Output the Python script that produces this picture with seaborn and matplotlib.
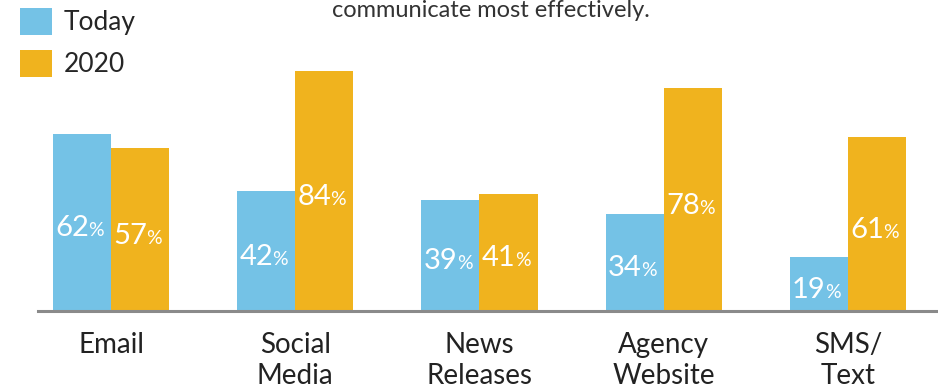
import matplotlib
matplotlib.use("Agg")
import matplotlib.pyplot as plt
import numpy as np
import pandas as pd
import seaborn as sns
from matplotlib.patches import Patch

categories = ["Email", "Social\nMedia", "News\nReleases", "Agency\nWebsite", "SMS/\nText"]
series = ["Today", "2020"]
today = [62, 42, 39, 34, 19]
future_2020 = [57, 84, 41, 78, 61]
subtitle = "communicate most effectively."

colors = {"Today": "#74C2E6", "2020": "#F0B31E"}

df = pd.DataFrame({
    "category": categories * 2,
    "series": ["Today"] * len(categories) + ["2020"] * len(categories),
    "value": today + future_2020,
})

sns.set_theme(style="white")
plt.rcParams["font.family"] = ["Lato", "DejaVu Sans"]

fig = plt.figure(figsize=(9.38, 3.91), dpi=100)
ax = fig.add_axes([38 / 938, 80 / 391, 900 / 938, 311 / 391])
sns.barplot(data=df, x="category", y="value", hue="series", order=categories,
            hue_order=series, palette=colors, width=0.63, saturation=1,
            linewidth=0, legend=False, ax=ax)
ax.set_xlim(-73 / 184, 4 + 90 / 184)
ax.set_ylim(0, 109)
for s in ["top", "right", "left"]:
    ax.spines[s].set_visible(False)
ax.spines["bottom"].set_color("#8a8a8a")
ax.spines["bottom"].set_linewidth(2.2)
ax.set_yticks([])
ax.set_xlabel("")
ax.set_ylabel("")
ax.tick_params(axis="x", length=0, pad=15, labelsize=20, labelcolor="#222222")
for lbl in ax.get_xticklabels():
    lbl.set_linespacing(1.25)

for container in ax.containers:
    for bar in container:
        h = bar.get_height()
        cx = bar.get_x() + bar.get_width() / 2
        ax.annotate(f"{int(round(h))}", (cx, h / 2), xytext=(5, -10),
                    textcoords="offset points", ha="right", va="baseline",
                    fontsize=21, color="white")
        ax.annotate("%", (cx, h / 2), xytext=(4.5, -10),
                    textcoords="offset points", ha="left", va="baseline",
                    fontsize=14, color="white")

handles = [Patch(facecolor=colors[s], edgecolor="none") for s in series]
fig.legend(handles, series, loc="upper left", bbox_to_anchor=(20 / 938, 1 - 8 / 391),
           frameon=False, fontsize=19, handlelength=1.2, handleheight=1.2,
           handletextpad=0.45, labelspacing=0.55, borderpad=0, borderaxespad=0)

fig.text(491 / 938, 1 - 17 / 391, subtitle, ha="center", va="baseline",
         fontsize=17, color="#333333")

fig.savefig("out.png", dpi=100)
